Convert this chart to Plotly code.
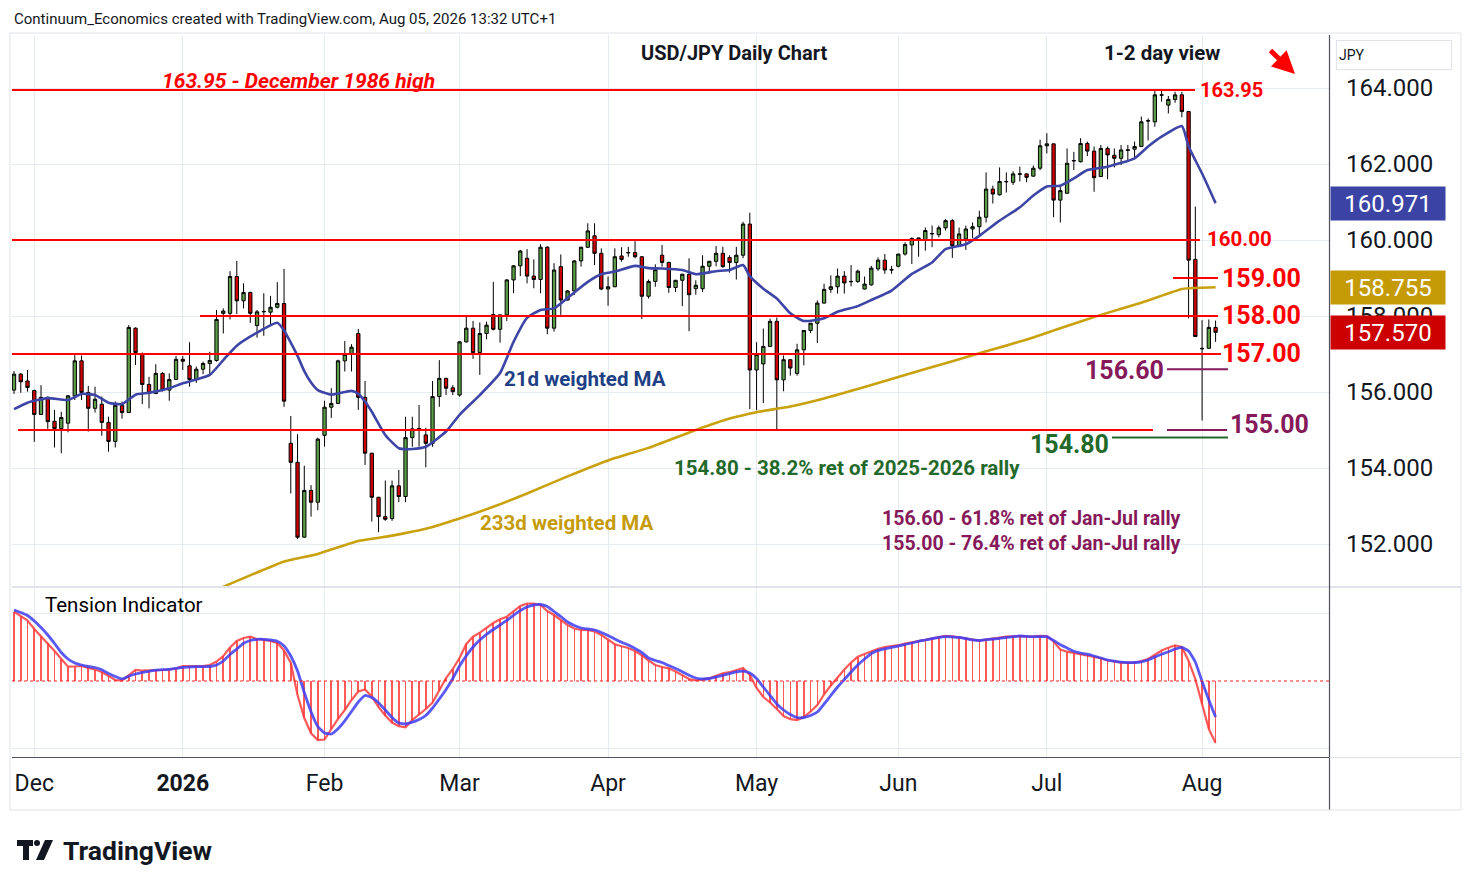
import pandas as pd
import plotly.graph_objects as go

# ---------------- data ----------------
holidays = ["2025-12-25", "2026-01-01"]
dates = [d.strftime("%Y-%m-%d") for d in pd.bdate_range("2025-11-26", "2026-08-05")
         if d.strftime("%Y-%m-%d") not in holidays]

opens = [156.05, 156.47, 156.29, 156.04, 155.41, 155.86, 155.23, 155.04, 155.18, 155.90,
         156.82, 155.99, 155.57, 155.68, 155.20, 154.70, 155.65, 155.46, 157.68, 157.00,
         156.20, 155.96, 156.49, 156.05, 156.33, 156.86, 156.69, 156.33, 156.60, 156.75,
         156.83, 158.07, 158.07, 159.04, 158.40, 158.62, 157.75, 158.11, 158.10, 158.23,
         158.33, 154.65, 154.15, 152.18, 153.41, 153.10, 154.86, 155.60, 155.70, 156.82,
         156.99, 157.54, 155.86, 154.39, 153.23, 152.72, 152.67, 153.53, 153.25, 154.80,
         155.02, 154.87, 154.65, 155.88, 156.36, 156.11, 155.92, 157.32, 157.68, 157.04,
         157.54, 158.04, 157.65, 158.03, 158.95, 159.32, 159.52, 159.05, 158.96, 159.81,
         157.68, 159.30, 158.42, 158.66, 159.45, 159.81, 160.11, 159.65, 158.71, 158.77,
         159.58, 159.66, 159.67, 159.56, 158.52, 158.91, 159.60, 159.41, 158.75, 158.94,
         159.10, 158.72, 158.72, 159.31, 159.44, 159.65, 159.54, 159.41, 159.60, 160.42,
         156.58, 156.74, 157.20, 157.86, 156.32, 156.85, 156.49, 157.11, 157.62, 157.81,
         158.34, 158.70, 158.77, 159.05, 158.90, 158.91, 158.71, 158.82, 159.24, 159.47,
         159.21, 159.31, 159.63, 159.87, 160.03, 160.00, 160.16, 160.14, 160.32, 160.51,
         159.85, 160.03, 160.29, 160.35, 160.60, 161.34, 161.19, 161.53, 161.52, 161.73,
         161.74, 161.68, 161.89, 162.48, 162.53, 161.05, 161.23, 162.08, 162.06, 162.54,
         162.34, 161.67, 162.41, 162.23, 162.15, 162.36, 162.39, 162.46, 163.13, 163.11,
         163.81, 163.55, 163.70, 163.82, 163.38, 159.49, 157.15, 157.15, 157.70]

highs = [156.55, 156.50, 156.58, 156.06, 156.18, 155.88, 155.53, 155.48, 155.92, 156.97,
         156.96, 156.16, 156.14, 155.88, 155.35, 155.75, 155.75, 157.76, 157.70, 157.04,
         156.40, 156.73, 156.52, 156.49, 156.95, 156.95, 157.31, 156.67, 156.80, 157.06,
         158.16, 158.20, 159.18, 159.45, 158.86, 158.64, 158.16, 158.60, 158.53, 158.89,
         159.24, 155.37, 154.89, 154.06, 153.55, 154.80, 155.77, 156.10, 156.85, 157.34,
         157.26, 157.66, 156.29, 154.40, 153.24, 153.67, 153.67, 153.95, 155.35, 155.35,
         155.66, 155.06, 156.29, 156.84, 156.37, 156.18, 157.33, 157.98, 157.87, 157.83,
         157.85, 158.90, 158.04, 158.97, 159.34, 159.74, 159.76, 159.49, 159.89, 159.84,
         159.39, 159.62, 158.68, 159.47, 159.82, 160.44, 160.44, 159.78, 159.04, 159.78,
         159.81, 159.82, 159.97, 159.57, 158.96, 159.36, 159.87, 159.43, 158.95, 159.11,
         159.52, 158.94, 159.60, 159.45, 159.84, 159.82, 159.60, 159.82, 160.48, 160.72,
         157.31, 157.67, 157.93, 157.96, 156.96, 156.86, 157.27, 157.62, 157.81, 158.41,
         158.85, 159.07, 159.25, 159.18, 159.34, 159.22, 159.04, 159.32, 159.54, 159.63,
         159.32, 159.63, 159.94, 160.07, 160.05, 160.33, 160.38, 160.38, 160.55, 160.55,
         160.33, 160.38, 160.46, 160.77, 161.78, 161.43, 161.91, 161.78, 161.81, 161.93,
         161.75, 161.96, 162.64, 162.81, 162.54, 161.43, 162.41, 162.32, 162.68, 162.59,
         162.46, 162.50, 162.46, 162.41, 162.50, 162.50, 162.59, 163.25, 163.20, 163.96,
         163.96, 163.79, 163.90, 163.90, 163.40, 160.88, 157.89, 157.91, 157.88]

lows = [155.95, 155.98, 156.01, 154.69, 155.40, 155.03, 154.54, 154.39, 154.94, 155.79,
        155.79, 154.96, 155.46, 154.85, 154.43, 154.54, 155.30, 155.45, 156.71, 155.68,
        155.57, 155.95, 156.01, 155.77, 156.32, 156.58, 156.14, 156.24, 156.47, 156.47,
        156.80, 157.54, 157.91, 158.05, 158.20, 157.82, 157.43, 157.48, 157.76, 158.20,
        155.61, 153.33, 152.13, 152.17, 152.72, 152.89, 154.56, 155.32, 155.69, 156.54,
        156.54, 155.53, 154.08, 152.59, 152.31, 152.61, 152.61, 153.10, 153.10, 154.56,
        154.56, 154.02, 154.56, 155.61, 155.92, 155.92, 155.88, 157.30, 156.87, 156.45,
        157.39, 157.62, 157.30, 157.87, 158.60, 159.05, 158.86, 158.73, 158.60, 157.52,
        157.59, 158.03, 158.41, 158.55, 159.30, 159.79, 159.34, 158.68, 158.27, 158.76,
        159.43, 159.56, 159.52, 157.92, 158.46, 158.77, 159.30, 158.61, 158.63, 158.26,
        157.60, 158.56, 158.63, 159.12, 159.31, 159.27, 159.14, 158.96, 159.52, 155.55,
        155.52, 155.71, 157.19, 155.00, 156.02, 156.43, 156.43, 156.70, 157.55, 157.29,
        158.33, 158.61, 158.59, 158.59, 158.78, 158.87, 158.70, 158.80, 159.19, 159.11,
        159.11, 159.28, 159.59, 159.37, 159.56, 159.72, 159.81, 160.07, 160.25, 159.53,
        159.82, 159.74, 160.05, 160.09, 160.46, 160.96, 161.17, 161.25, 161.45, 161.54,
        161.52, 161.67, 161.84, 162.28, 160.60, 160.46, 161.22, 161.84, 162.04, 162.21,
        161.27, 161.66, 161.60, 161.91, 161.97, 162.10, 162.15, 162.45, 162.62, 162.98,
        163.64, 163.33, 163.61, 163.23, 157.94, 157.45, 155.25, 157.14, 157.32]

closes = [156.47, 156.27, 156.12, 155.41, 155.86, 155.22, 155.04, 155.33, 155.90, 156.82,
          155.99, 155.57, 155.81, 155.20, 154.70, 155.65, 155.46, 157.70, 157.04, 156.20,
          155.96, 156.49, 156.05, 156.33, 156.86, 156.81, 156.33, 156.60, 156.75, 156.83,
          157.91, 158.13, 159.04, 158.40, 158.62, 158.07, 158.11, 158.12, 158.23, 158.33,
          155.76, 154.15, 152.18, 153.41, 153.10, 154.76, 155.60, 155.70, 156.82, 156.99,
          157.18, 155.86, 154.39, 153.23, 152.72, 152.65, 153.53, 153.25, 154.80, 155.03,
          155.04, 154.65, 155.88, 156.36, 156.10, 156.01, 157.32, 157.68, 157.04, 157.54,
          157.76, 157.65, 158.03, 158.95, 159.32, 159.71, 159.05, 158.96, 159.81, 157.68,
          159.21, 158.42, 158.66, 159.45, 159.81, 160.24, 159.65, 158.71, 158.77, 159.56,
          159.49, 159.67, 159.56, 158.52, 158.91, 159.22, 159.41, 158.75, 158.94, 159.10,
          158.56, 158.81, 159.31, 159.44, 159.65, 159.30, 159.41, 159.60, 160.42, 156.58,
          156.99, 157.20, 157.86, 156.32, 156.85, 156.63, 157.11, 157.62, 157.81, 158.34,
          158.70, 158.77, 159.05, 158.87, 158.91, 159.18, 158.84, 159.26, 159.47, 159.21,
          159.22, 159.63, 159.88, 160.04, 160.05, 160.25, 160.17, 160.32, 160.51, 159.85,
          160.16, 160.29, 160.35, 160.60, 161.34, 161.21, 161.54, 161.54, 161.74, 161.74,
          161.65, 161.89, 162.48, 162.53, 161.05, 161.30, 162.02, 162.09, 162.54, 162.34,
          161.64, 162.41, 162.24, 162.15, 162.37, 162.37, 162.46, 163.11, 163.14, 163.82,
          163.82, 163.70, 163.82, 163.38, 159.47, 157.46, 157.14, 157.70, 157.57]

ma21_dates = ["2025-11-26", "2025-11-28", "2025-12-03", "2025-12-08", "2025-12-10", "2025-12-12",
              "2025-12-16", "2025-12-18", "2025-12-22", "2025-12-24", "2025-12-30", "2026-01-02",
              "2026-01-06", "2026-01-08", "2026-01-12", "2026-01-14", "2026-01-19", "2026-01-22",
              "2026-01-23", "2026-01-26", "2026-01-27", "2026-01-28", "2026-01-29", "2026-01-30",
              "2026-02-03", "2026-02-04", "2026-02-06", "2026-02-09", "2026-02-10", "2026-02-11",
              "2026-02-13", "2026-02-17", "2026-02-19", "2026-02-23", "2026-02-26", "2026-03-02",
              "2026-03-05", "2026-03-10", "2026-03-12", "2026-03-16", "2026-03-18", "2026-03-20",
              "2026-03-25", "2026-03-27", "2026-03-31", "2026-04-02", "2026-04-07", "2026-04-09",
              "2026-04-13", "2026-04-16", "2026-04-20", "2026-04-23", "2026-04-27", "2026-04-29",
              "2026-04-30", "2026-05-04", "2026-05-06", "2026-05-08", "2026-05-12", "2026-05-15",
              "2026-05-19", "2026-05-22", "2026-05-26", "2026-05-29", "2026-06-03", "2026-06-08",
              "2026-06-10", "2026-06-15", "2026-06-17", "2026-06-22", "2026-06-25", "2026-06-29",
              "2026-07-01", "2026-07-03", "2026-07-07", "2026-07-09", "2026-07-14", "2026-07-20",
              "2026-07-22", "2026-07-24", "2026-07-29", "2026-07-30", "2026-08-03", "2026-08-05"]
ma21_vals = [155.55, 155.72, 155.84, 155.79, 155.95, 155.92,
             155.72, 155.68, 155.93, 155.98, 156.10, 156.23,
             156.33, 156.45, 156.84, 157.22, 157.56, 157.82,
             157.62, 157.30, 156.95, 156.55, 156.25, 156.05,
             155.93, 155.96, 156.03, 155.95, 155.75, 155.48,
             154.87, 154.52, 154.50, 154.56, 154.96, 155.40,
             155.92, 156.50, 157.32, 157.95, 158.16, 158.20,
             158.62, 158.90, 159.10, 159.17, 159.32, 159.26,
             159.25, 159.21, 159.10, 159.18, 159.21, 159.34,
             159.05, 158.72, 158.46, 158.07, 157.87, 157.94,
             158.11, 158.26, 158.42, 158.67, 159.11, 159.41,
             159.76, 159.89, 160.11, 160.51, 160.86, 161.17,
             161.41, 161.43, 161.62, 161.84, 161.93, 162.15,
             162.46, 162.72, 163.00, 162.46, 161.75, 160.971]

ma233_dates = ["2026-01-08", "2026-01-13", "2026-01-19", "2026-01-23", "2026-01-30", "2026-02-09",
               "2026-02-16", "2026-02-23", "2026-03-02", "2026-03-09", "2026-03-16", "2026-03-24",
               "2026-04-01", "2026-04-09", "2026-04-20", "2026-04-27", "2026-05-01", "2026-05-08",
               "2026-05-15", "2026-05-25", "2026-06-02", "2026-06-10", "2026-06-18", "2026-06-26",
               "2026-07-03", "2026-07-13", "2026-07-21", "2026-07-29", "2026-07-30", "2026-08-05"]
ma233_vals = [150.72, 150.95, 151.25, 151.54, 151.74, 152.08,
              152.22, 152.40, 152.67, 152.98, 153.33, 153.78,
              154.20, 154.53, 155.00, 155.30, 155.47, 155.62,
              155.83, 156.13, 156.45, 156.76, 157.07, 157.38,
              157.68, 158.03, 158.35, 158.71, 158.73, 158.755]

tension_fast = [6.93, 6.5, 6.05, 5.2, 4.5, 3.8, 3.0, 2.2, 1.43, 1.45,
                1.5, 1.3, 1.15, 0.9, 0.5, 0.1, 0.05, 0.6, 1.1, 1.05,
                1.05, 1.1, 1.1, 1.15, 1.25, 1.5, 1.5, 1.5, 1.5, 1.6,
                1.95, 2.5, 3.35, 4.0, 4.3, 4.43, 4.2, 4.12, 4.0, 3.8,
                3.05, 1.8, -1.4, -3.7, -5.23, -5.9, -5.85, -4.8, -3.78, -2.9,
                -1.9, -1.05, -0.85, -1.55, -2.6, -3.45, -4.15, -4.52, -4.63, -3.9,
                -3.35, -2.8, -2.15, -0.95, 0.3, 1.2, 2.3, 3.7, 4.43, 4.83,
                5.35, 5.8, 6.17, 6.43, 6.97, 7.5, 7.75, 7.75, 7.6, 7.0,
                6.6, 6.1, 5.6, 5.25, 5.1, 5.1, 4.95, 4.6, 4.1, 3.68,
                3.47, 3.3, 3.0, 2.58, 2.03, 1.6, 1.4, 1.27, 0.95, 0.6,
                0.2, 0.07, 0.13, 0.27, 0.55, 0.78, 0.88, 1.1, 1.3, 0.6,
                -0.7, -1.6, -2.15, -2.8, -3.5, -3.82, -3.9, -3.6, -3.05, -2.4,
                -1.33, -0.45, 0.4, 1.15, 1.85, 2.42, 2.7, 3.0, 3.22, 3.4,
                3.47, 3.58, 3.75, 3.9, 4.0, 4.11, 4.25, 4.4, 4.52, 4.46,
                4.35, 4.2, 4.12, 4.04, 4.13, 4.26, 4.34, 4.43, 4.47, 4.5,
                4.46, 4.44, 4.52, 4.5, 3.95, 3.15, 2.93, 2.8, 2.72, 2.6,
                2.47, 2.28, 2.05, 1.93, 1.84, 1.83, 1.83, 2.0, 2.2, 2.62,
                3.05, 3.32, 3.57, 3.4, 2.0, 0.2, -2.3, -4.8, -6.2]

tension_slow = [7.1, 6.85, 6.55, 6.0, 5.35, 4.6, 3.75, 2.85, 2.2, 1.8,
                1.6, 1.45, 1.35, 1.12, 0.75, 0.45, 0.2, 0.48, 0.7, 0.87,
                0.97, 1.08, 1.13, 1.17, 1.27, 1.37, 1.4, 1.43, 1.43, 1.45,
                1.6, 2.0, 2.65, 3.2, 3.77, 4.05, 4.17, 4.17, 4.1, 3.97,
                3.5, 2.5, 1.0, -1.15, -3.07, -4.55, -5.2, -5.3, -4.77, -3.98,
                -3.05, -2.1, -1.45, -1.65, -2.17, -2.9, -3.65, -4.2, -4.3, -4.12,
                -3.85, -3.45, -2.7, -1.8, -0.85, 0.25, 1.5, 2.53, 3.4, 4.1,
                4.67, 5.15, 5.6, 6.07, 6.57, 7.05, 7.4, 7.6, 7.65, 7.45,
                6.95, 6.45, 5.9, 5.55, 5.3, 5.2, 5.1, 4.85, 4.55, 4.2,
                3.87, 3.6, 3.25, 2.85, 2.3, 2.05, 1.85, 1.55, 1.25, 0.93,
                0.57, 0.3, 0.2, 0.25, 0.4, 0.57, 0.74, 0.92, 0.99, 0.8,
                0.25, -0.6, -1.45, -2.3, -2.9, -3.35, -3.65, -3.65, -3.45, -3.1,
                -2.3, -1.45, -0.6, 0.15, 0.9, 1.6, 2.2, 2.75, 3.05, 3.22,
                3.37, 3.49, 3.65, 3.8, 3.97, 4.1, 4.24, 4.36, 4.43, 4.4,
                4.37, 4.25, 4.12, 4.05, 4.13, 4.2, 4.26, 4.36, 4.43, 4.5,
                4.46, 4.43, 4.43, 4.43, 4.05, 3.63, 3.3, 2.97, 2.8, 2.68,
                2.5, 2.3, 2.1, 1.99, 1.88, 1.83, 1.85, 1.92, 2.1, 2.4,
                2.68, 2.93, 3.2, 3.37, 3.0, 1.9, -0.05, -1.9, -3.6]

month_tick_dates = ["2025-12-01", "2026-01-02", "2026-02-02", "2026-03-02", "2026-04-01",
                    "2026-05-01", "2026-06-01", "2026-07-01", "2026-08-03"]
month_tick_text = ["Dec", "<b>2026</b>", "Feb", "Mar", "Apr", "May", "Jun", "Jul", "Aug"]

price_ticks = [152, 154, 156, 158, 160, 162, 164]

level_high = 163.95
level_160 = 160.00
level_159 = 159.00
level_158 = 158.00
level_157 = 157.00
level_618 = 156.60
level_764 = 155.00
level_382 = 154.80

# ---------------- styling / layout helpers ----------------
W, H = 1474, 887
L_PX, R_PX, T_PX, B_PX = 12, 1329, 35, 757
PW, PH = R_PX - L_PX, B_PX - T_PX


def px(xp):
    return (xp - L_PX) / PW


def py(yp):
    return (B_PX - yp) / PH


FONT = "Roboto, Liberation Sans, sans-serif"
RED = "#ff0000"
PURPLE = "#86195a"
GREEN = "#23692a"
NAVY = "#213f84"
GOLD = "#c59b0a"
MA21_COL = "#3d45a6"
GRID = "#e6ebf1"
TXT = "#131722"

fig = go.Figure()

# moving averages (behind candles)
fig.add_trace(go.Scatter(x=ma233_dates, y=ma233_vals, mode="lines",
                         line=dict(color="#c9a10e", width=2.6, shape="spline", smoothing=0.5),
                         xaxis="x", yaxis="y", showlegend=False, hoverinfo="skip"))
fig.add_trace(go.Scatter(x=ma21_dates, y=ma21_vals, mode="lines",
                         line=dict(color=MA21_COL, width=2.6, shape="spline", smoothing=0.5),
                         xaxis="x", yaxis="y", showlegend=False, hoverinfo="skip"))

fig.add_trace(go.Candlestick(
    x=dates, open=opens, high=highs, low=lows, close=closes,
    increasing=dict(line=dict(color="#000000", width=1), fillcolor="#5b9c46"),
    decreasing=dict(line=dict(color="#000000", width=1), fillcolor="#d10000"),
    whiskerwidth=0, xaxis="x", yaxis="y", showlegend=False))

# tension indicator
fig.add_trace(go.Bar(x=dates, y=tension_fast, width=0.24, marker=dict(color="rgba(255,60,60,0.85)", line=dict(width=0)),
                     xaxis="x2", yaxis="y2", showlegend=False, hoverinfo="skip"))
fig.add_trace(go.Scatter(x=dates, y=tension_fast, mode="lines",
                         line=dict(color="rgba(255,60,60,0.85)", width=2.2),
                         xaxis="x2", yaxis="y2", showlegend=False))
fig.add_trace(go.Scatter(x=dates, y=tension_slow, mode="lines",
                         line=dict(color="rgba(60,60,245,0.85)", width=2.8, shape="spline", smoothing=0.4),
                         xaxis="x2", yaxis="y2", showlegend=False))

shapes = []


def hline(level, x0p, x1p, color, width=2):
    shapes.append(dict(type="line", xref="paper", yref="y", x0=px(x0p), x1=px(x1p),
                       y0=level, y1=level, line=dict(color=color, width=width)))


hline(level_high, 12, 1195, RED)
hline(level_160, 12, 1200, RED)
hline(level_159, 1173, 1218, RED)
hline(level_158, 200, 1218, RED)
hline(level_157, 12, 1221, RED)
hline(level_618, 1167, 1228, PURPLE)
hline(level_764, 18, 1153, RED)
hline(level_764, 1167, 1227, PURPLE)
hline(level_382, 1112, 1228, GREEN)

# zero line of indicator
shapes.append(dict(type="line", xref="paper", yref="y2", x0=0, x1=1, y0=0, y1=0,
                   line=dict(color="#ff2020", width=1.2, dash="dot")))
# pane separator
shapes.append(dict(type="line", xref="paper", yref="paper", x0=px(12), x1=px(1461), y0=py(587), y1=py(587),
                   line=dict(color="#d6dae2", width=1.5)))
# price axis separator
shapes.append(dict(type="line", xref="paper", yref="paper", x0=px(1329.5), x1=px(1329.5), y0=py(35), y1=py(810),
                   line=dict(color="#50535e", width=1.2)))
# bottom axis line
shapes.append(dict(type="line", xref="paper", yref="paper", x0=px(12), x1=px(1329.5), y0=py(757.5), y1=py(757.5),
                   line=dict(color="#50535e", width=1.2)))
shapes.append(dict(type="line", xref="paper", yref="paper", x0=px(1329.5), x1=px(1461), y0=py(757.5), y1=py(757.5),
                   line=dict(color="#e0e3eb", width=1)))
# outer frame
shapes.append(dict(type="rect", xref="paper", yref="paper", x0=px(10), x1=px(1461), y0=py(33), y1=py(810),
                   line=dict(color="#e0e3eb", width=1)))

# TradingView logo mark
shapes.append(dict(type="path", xref="paper", yref="paper",
                   path="M {a},{b} L {c},{b} L {c},{d} L {e},{d} L {e},{f} L {g},{f} L {g},{d} L {a},{d} Z".format(
                       a=px(17), b=py(840), c=px(33), d=py(846), e=px(29), f=py(860), g=px(23)),
                   fillcolor=TXT, line=dict(width=0)))
shapes.append(dict(type="circle", xref="paper", yref="paper", x0=px(34), x1=px(40), y0=py(846), y1=py(840),
                   fillcolor=TXT, line=dict(width=0)))
shapes.append(dict(type="path", xref="paper", yref="paper",
                   path="M {a},{b} L {c},{b} L {d},{e} L {f},{e} Z".format(
                       a=px(45), b=py(840), c=px(53), d=px(44), e=py(860), f=px(36)),
                   fillcolor=TXT, line=dict(width=0)))

ann = []


def text(t, xp, yp, size, color, xanchor="left", bold=False, italic=False, family=FONT):
    ann.append(dict(text=t, xref="paper", yref="paper", x=px(xp), y=py(yp), xanchor=xanchor, yanchor="middle",
                    showarrow=False, align="left",
                    font=dict(family=family, size=size, color=color,
                              weight="bold" if bold else "normal",
                              style="italic" if italic else "normal")))


text("Continuum_Economics created with TradingView.com, Aug 05, 2026 13:32 UTC+1", 12, 19, 15, TXT)
text("USD/JPY Daily Chart", 734, 53, 20, TXT, xanchor="center", bold=True)
text("1-2 day view", 1162, 53, 20.5, TXT, xanchor="center", bold=True)
text(f"{level_high:.2f} - December 1986 high", 160, 81, 21, RED, bold=True, italic=True)
text(f"{level_high:.2f}", 1198, 90, 20, RED, bold=True)
text(f"{level_160:.2f}", 1205, 239, 20.5, RED, bold=True)
text(f"{level_159:.2f}", 1220, 278, 25, RED, bold=True)
text(f"{level_158:.2f}", 1220, 315, 25, RED, bold=True)
text(f"{level_157:.2f}", 1220, 353, 25, RED, bold=True)
text(f"{level_618:.2f}", 1166, 370, 25, PURPLE, xanchor="right", bold=True)
text(f"{level_764:.2f}", 1228, 425, 25, PURPLE, bold=True)
text(f"{level_382:.2f}", 1111, 444, 25, GREEN, xanchor="right", bold=True)
text("21d weighted MA", 502, 379, 20.5, NAVY, bold=True)
text("233d weighted MA", 478, 523, 20.5, GOLD, bold=True)
text(f"{level_382:.2f} - 38.2% ret of 2025-2026 rally", 672, 468, 20.5, GREEN, bold=True)
text(f"{level_618:.2f} - 61.8% ret of Jan-Jul rally<br>{level_764:.2f} - 76.4% ret of Jan-Jul rally",
     880, 531, 19.5, PURPLE, bold=True)
text("Tension Indicator", 43, 605, 20.5, "#000000")
text("TradingView", 61, 850, 26.5, TXT, bold=True)

# arrow
ann.append(dict(text="", xref="paper", yref="paper", x=px(1295), y=py(74), ax=-26, ay=-25,
                showarrow=True, arrowhead=2, arrowsize=0.9, arrowwidth=5, arrowcolor=RED, standoff=0))

# JPY box
ann.append(dict(text="JPY", xref="paper", yref="paper", x=px(1336), y=py(40), xanchor="left", yanchor="top",
                showarrow=False, width=110, height=24, align="left", bgcolor="#ffffff",
                bordercolor="#e0e3eb", borderwidth=1, borderpad=2,
                font=dict(family=FONT, size=14, color=TXT)))

# last-value boxes on price axis
for val, bg in [(ma21_vals[-1], "#3b44a4"), (ma233_vals[-1], "#c49a06"), (closes[-1], "#cc0000")]:
    ann.append(dict(text=f"{val:.3f}", xref="paper", yref="y", x=px(1330), y=val, xanchor="left",
                    yanchor="middle", showarrow=False, width=110, height=29, bgcolor=bg, borderpad=2,
                    font=dict(family=FONT, size=24, color="#ffffff")))

fig.update_layout(
    width=W, height=H,
    margin=dict(l=L_PX, r=W - R_PX, t=T_PX, b=H - B_PX),
    paper_bgcolor="#ffffff", plot_bgcolor="#ffffff",
    showlegend=False, bargap=0,
    font=dict(family=FONT, color=TXT),
    xaxis=dict(type="category", categoryorder="array", categoryarray=dates, anchor="y",
               range=[-0.3, 194.8], rangeslider=dict(visible=False),
               tickmode="array", tickvals=month_tick_dates, ticktext=month_tick_text,
               showticklabels=False, showgrid=True, gridcolor=GRID, gridwidth=1,
               zeroline=False, showline=False, ticks=""),
    xaxis2=dict(type="category", categoryorder="array", categoryarray=dates, anchor="y2", matches="x",
                range=[-0.3, 194.8],
                tickmode="array", tickvals=month_tick_dates, ticktext=month_tick_text,
                showticklabels=True, showgrid=True, gridcolor=GRID, gridwidth=1,
                tickfont=dict(family=FONT, size=23, color=TXT), ticks="", ticklabelstandoff=10,
                zeroline=False, showline=False),
    yaxis=dict(domain=[py(586), 1], range=[150.895, 165.395], side="right",
               tickmode="array", tickvals=price_ticks, ticktext=[f"{v:.3f}" for v in price_ticks],
               tickfont=dict(family=FONT, size=24, color=TXT), ticks="", ticklabelstandoff=16,
               showgrid=True, gridcolor=GRID, gridwidth=1, zeroline=False, showline=False),
    yaxis2=dict(domain=[0, py(588)], range=[-7.6, 9.3], side="right",
                tickmode="array", tickvals=[-6.75, 6.75], showticklabels=False,
                showgrid=True, gridcolor=GRID, gridwidth=1, zeroline=False, showline=False, ticks=""),
    shapes=shapes,
    annotations=ann,
)

fig.write_html("out.html", config={"displayModeBar": False},
               post_script="document.body.style.margin='0px';document.body.style.overflow='hidden';")
